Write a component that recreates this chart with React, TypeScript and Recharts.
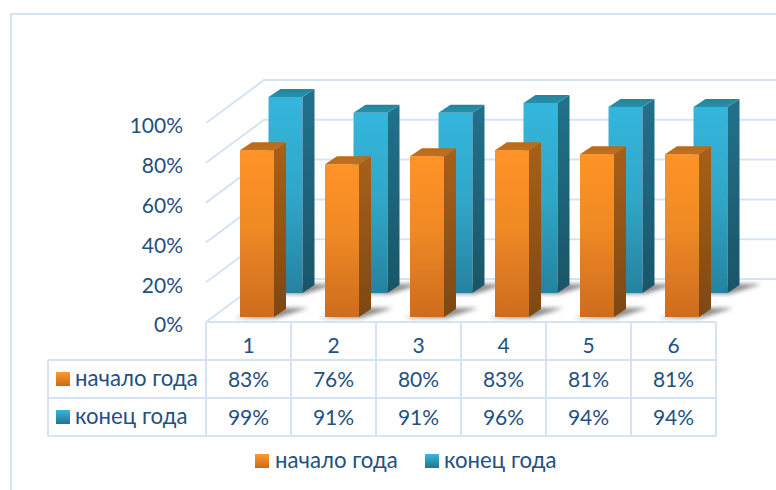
import { BarChart, Bar, XAxis, YAxis, CartesianGrid, Legend } from 'recharts'

const categories = ['1', '2', '3', '4', '5', '6']
const startValues = [83, 76, 80, 83, 81, 81]
const endValues = [99, 91, 91, 96, 94, 94]
const yTicks = [0, 20, 40, 60, 80, 100]
const seriesNames = ['начало года', 'конец года']

const data = categories.map((c, i) => ({ cat: c, start: startValues[i], end: endValues[i] }))

const font = 'Lato, "Open Sans", sans-serif'
const textColor = '#24507f'
const lineColor = '#d5e3f5'
const BAND = 85
const BACK_X = 58
const BACK_Y = -43
const LABEL_SIZE = 22.2

const Swatch = ({ x, y, id }: { x: number; y: number; id: string }) => (
  <rect x={x} y={y} width={14} height={14} fill={`url(#${id})`} />
)

// 3d column: front, right side, top and a soft floor shadow
const cuboid = (dx: number, dy: number, k: number, name: string) => (props: any) => {
  const { x, y, width, height } = props
  const h = height * k
  const bottom = y + height + dy
  const top = bottom - h
  const left = x + dx
  const right = left + width
  const dX = 12
  const dY = -8
  return (
    <g>
      <polygon
        points={`${left - 6},${bottom + 1} ${right + 2},${bottom + 1} ${right + dX + 22},${bottom + dY - 1} ${right + dX - 2},${bottom + dY - 1}`}
        fill="#3c3c3c"
        opacity={0.6}
        filter="url(#floorBlur)"
      />
      <rect x={left} y={top} width={width} height={h} fill={`url(#${name}Front)`} />
      <polygon
        points={`${right},${top} ${right + dX},${top + dY} ${right + dX},${bottom + dY} ${right},${bottom}`}
        fill={`url(#${name}Side)`}
      />
      <polygon
        points={`${left},${top} ${left + dX},${top + dY} ${right + dX},${top + dY} ${right},${top}`}
        fill={`url(#${name}Top)`}
      />
    </g>
  )
}

// wall and back gridlines: skewed up from the front axis, then right to the edge
const gridLine = (props: any) => {
  const { x1, y1 } = props
  return (
    <polyline
      key={`g-${y1}`}
      points={`${x1},${y1} ${x1 + BACK_X},${y1 + BACK_Y} 776,${y1 + BACK_Y}`}
      fill="none"
      stroke={lineColor}
      strokeWidth={2}
    />
  )
}

const cellText = { fontFamily: font, fontSize: 21, fill: textColor, textAnchor: 'middle' as const }

// x axis tick draws the whole data table column
const TableTick = (props: any) => {
  const { x, index } = props
  const top = 322
  const rows = [top + 38, top + 76, top + 114]
  return (
    <g>
      {index === 0 && (
        <g>
          <line x1={48} x2={716} y1={rows[0]} y2={rows[0]} stroke={lineColor} strokeWidth={2} />
          <line x1={48} x2={716} y1={rows[1]} y2={rows[1]} stroke={lineColor} strokeWidth={2} />
          <line x1={48} x2={716} y1={rows[2]} y2={rows[2]} stroke={lineColor} strokeWidth={2} />
          <line x1={48} x2={48} y1={rows[0]} y2={rows[2]} stroke={lineColor} strokeWidth={2} />
          <line x1={206} x2={716} y1={top} y2={top} stroke={lineColor} strokeWidth={2} />
          <line x1={x - BAND / 2} x2={x - BAND / 2} y1={top} y2={rows[2]} stroke={lineColor} strokeWidth={2} />
          <Swatch x={56} y={372} id="startSwatch" />
          <Swatch x={56} y={410} id="endSwatch" />
          <text x={75} y={386} fontFamily={font} fontSize={LABEL_SIZE} fill={textColor}>{seriesNames[0]}</text>
          <text x={75} y={424} fontFamily={font} fontSize={LABEL_SIZE} fill={textColor}>{seriesNames[1]}</text>
        </g>
      )}
      <line x1={x + BAND / 2} x2={x + BAND / 2} y1={top} y2={rows[2]} stroke={lineColor} strokeWidth={2} />
      <text x={x} y={top + 31} {...cellText}>{categories[index]}</text>
      <text x={x} y={rows[0] + 27} {...cellText}>{startValues[index]}%</text>
      <text x={x} y={rows[1] + 27} {...cellText}>{endValues[index]}%</text>
    </g>
  )
}

const legendContent = () => (
  <svg width={776} height={40} style={{ display: 'block' }}>
    <defs>
      <linearGradient id="startLegend" x1="0" y1="0" x2="0" y2="1">
        <stop offset="0" stopColor="#ff9a2b" />
        <stop offset="1" stopColor="#c96a1c" />
      </linearGradient>
      <linearGradient id="endLegend" x1="0" y1="0" x2="0" y2="1">
        <stop offset="0" stopColor="#35b8dd" />
        <stop offset="1" stopColor="#24748e" />
      </linearGradient>
    </defs>
    <Swatch x={255} y={14} id="startLegend" />
    <text x={275} y={28} fontFamily={font} fontSize={LABEL_SIZE} fill={textColor}>{seriesNames[0]}</text>
    <Swatch x={425} y={14} id="endLegend" />
    <text x={444} y={28} fontFamily={font} fontSize={LABEL_SIZE} fill={textColor}>{seriesNames[1]}</text>
  </svg>
)

export default function App() {
  return (
    <div style={{ position: 'absolute', left: 0, top: 0, width: 776, height: 490, overflow: 'hidden', background: '#fff' }}>
      <div style={{ position: 'absolute', left: 10, top: 13, width: 800, height: 520, borderLeft: `2px solid ${lineColor}`, borderTop: `2px solid ${lineColor}` }} />
      <div style={{ position: 'absolute', left: 0, top: 0 }}>
        <BarChart
          width={776}
          height={490}
          data={data}
          barSize={34}
          barGap={-34}
          margin={{ top: 123, right: 60, left: 0, bottom: 14 }}
        >
          <defs>
            <filter id="floorBlur" x="-30%" y="-80%" width="160%" height="260%">
              <feGaussianBlur stdDeviation="2" />
            </filter>
            <linearGradient id="startFront" x1="0" y1="0" x2="0" y2="1">
              <stop offset="0" stopColor="#ff9326" />
              <stop offset="0.45" stopColor="#f08a25" />
              <stop offset="1" stopColor="#cd6c1d" />
            </linearGradient>
            <linearGradient id="startSide" x1="0" y1="0" x2="0" y2="1">
              <stop offset="0" stopColor="#a8601a" />
              <stop offset="1" stopColor="#7d4814" />
            </linearGradient>
            <linearGradient id="startTop" x1="0" y1="0" x2="0" y2="1">
              <stop offset="0" stopColor="#b96a1b" />
              <stop offset="1" stopColor="#c2701d" />
            </linearGradient>
            <linearGradient id="endFront" x1="0" y1="0" x2="0" y2="1">
              <stop offset="0" stopColor="#34b6dc" />
              <stop offset="0.5" stopColor="#31a6c8" />
              <stop offset="1" stopColor="#26829f" />
            </linearGradient>
            <linearGradient id="endSide" x1="0" y1="0" x2="0" y2="1">
              <stop offset="0" stopColor="#22718c" />
              <stop offset="1" stopColor="#1a5567" />
            </linearGradient>
            <linearGradient id="endTop" x1="0" y1="0" x2="0" y2="1">
              <stop offset="0" stopColor="#25839c" />
              <stop offset="1" stopColor="#2890ab" />
            </linearGradient>
            <linearGradient id="startSwatch" x1="0" y1="0" x2="0" y2="1">
              <stop offset="0" stopColor="#ff9a2b" />
              <stop offset="1" stopColor="#c96a1c" />
            </linearGradient>
            <linearGradient id="endSwatch" x1="0" y1="0" x2="0" y2="1">
              <stop offset="0" stopColor="#35b8dd" />
              <stop offset="1" stopColor="#24748e" />
            </linearGradient>
          </defs>
          <CartesianGrid horizontal={gridLine} vertical={false} />
          <XAxis
            dataKey="cat"
            height={114}
            axisLine={false}
            tickLine={false}
            tick={TableTick}
            interval={0}
          />
          <YAxis
            width={206}
            domain={[0, 100]}
            ticks={yTicks}
            tickFormatter={(v: number) => `${v}%`}
            axisLine={false}
            tickLine={false}
            tickSize={0}
            tickMargin={23}
            tick={{ fontFamily: font, fontSize: 21, fill: textColor, dy: 3 }}
          />
          <Bar dataKey="end" name={seriesNames[1]} isAnimationActive={false} shape={cuboid(36.5, -29, 0.995, 'end')} />
          <Bar dataKey="start" name={seriesNames[0]} isAnimationActive={false} shape={cuboid(8, -5, 1.01, 'start')} />
          <Legend height={40} content={legendContent} wrapperStyle={{ left: 0, top: 440, width: 776 }} />
        </BarChart>
      </div>
    </div>
  )
}
